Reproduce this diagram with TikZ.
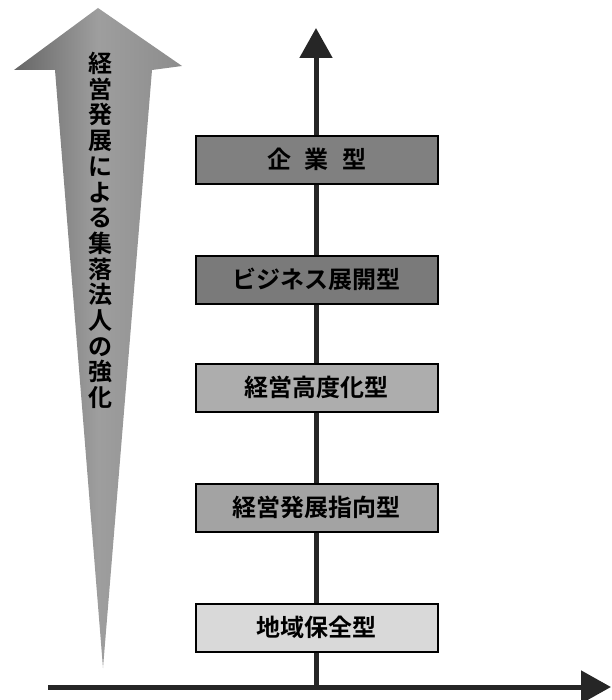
\documentclass[tikz,border=0pt]{standalone}
\usepackage{fontspec}
\setmainfont{Noto Sans CJK JP}[BoldFont={Noto Sans CJK JP Bold}]
\usetikzlibrary{arrows.meta}
\begin{document}
\begin{tikzpicture}[x=1pt,y=-1pt,
  stage/.style={draw=black,line width=1.6pt,minimum width=242pt,minimum height=48pt,inner sep=0pt,
    font=\fontsize{24}{27}\selectfont\bfseries,anchor=north west,text=black},
  axis/.style={line width=5pt,draw=black!85,-{Triangle[length=30pt,width=32pt]}}]
\useasboundingbox (0,0) rectangle (611,700);
% big left arrow
\shade[left color=black!60,right color=black!45,middle color=black!38]
  (98,8) -- (182,66) -- (152,70) -- (103,668) -- (55,70) -- (14,70) -- cycle;
\node[font=\fontsize{24}{25.7}\selectfont\bfseries,align=center,inner sep=0pt,anchor=north] (lab) at (100,52)
  {経\\営\\発\\展\\に\\よ\\る\\集\\落\\法\\人\\の\\強\\化};
% axes
\coordinate (o) at (316,687);
\coordinate (ytop) at (316,28);
\coordinate (xl) at (48,687);
\coordinate (xr) at (611,687);
\draw[axis] (o) -- (ytop);
\draw[axis] (xl) -- (xr);
% stages
\node[stage,fill=black!50] (s1) at (195,135) {企\hspace{0.55em}業\hspace{0.55em}型};
\node[stage,fill=black!52] (s2) at (195,255) {ビジネス展開型};
\node[stage,fill=black!32] (s3) at (195,363) {経営高度化型};
\node[stage,fill=black!36] (s4) at (195,483) {経営発展指向型};
\node[stage,fill=black!15] (s5) at (195,603) {地域保全型};
\end{tikzpicture}
\end{document}
